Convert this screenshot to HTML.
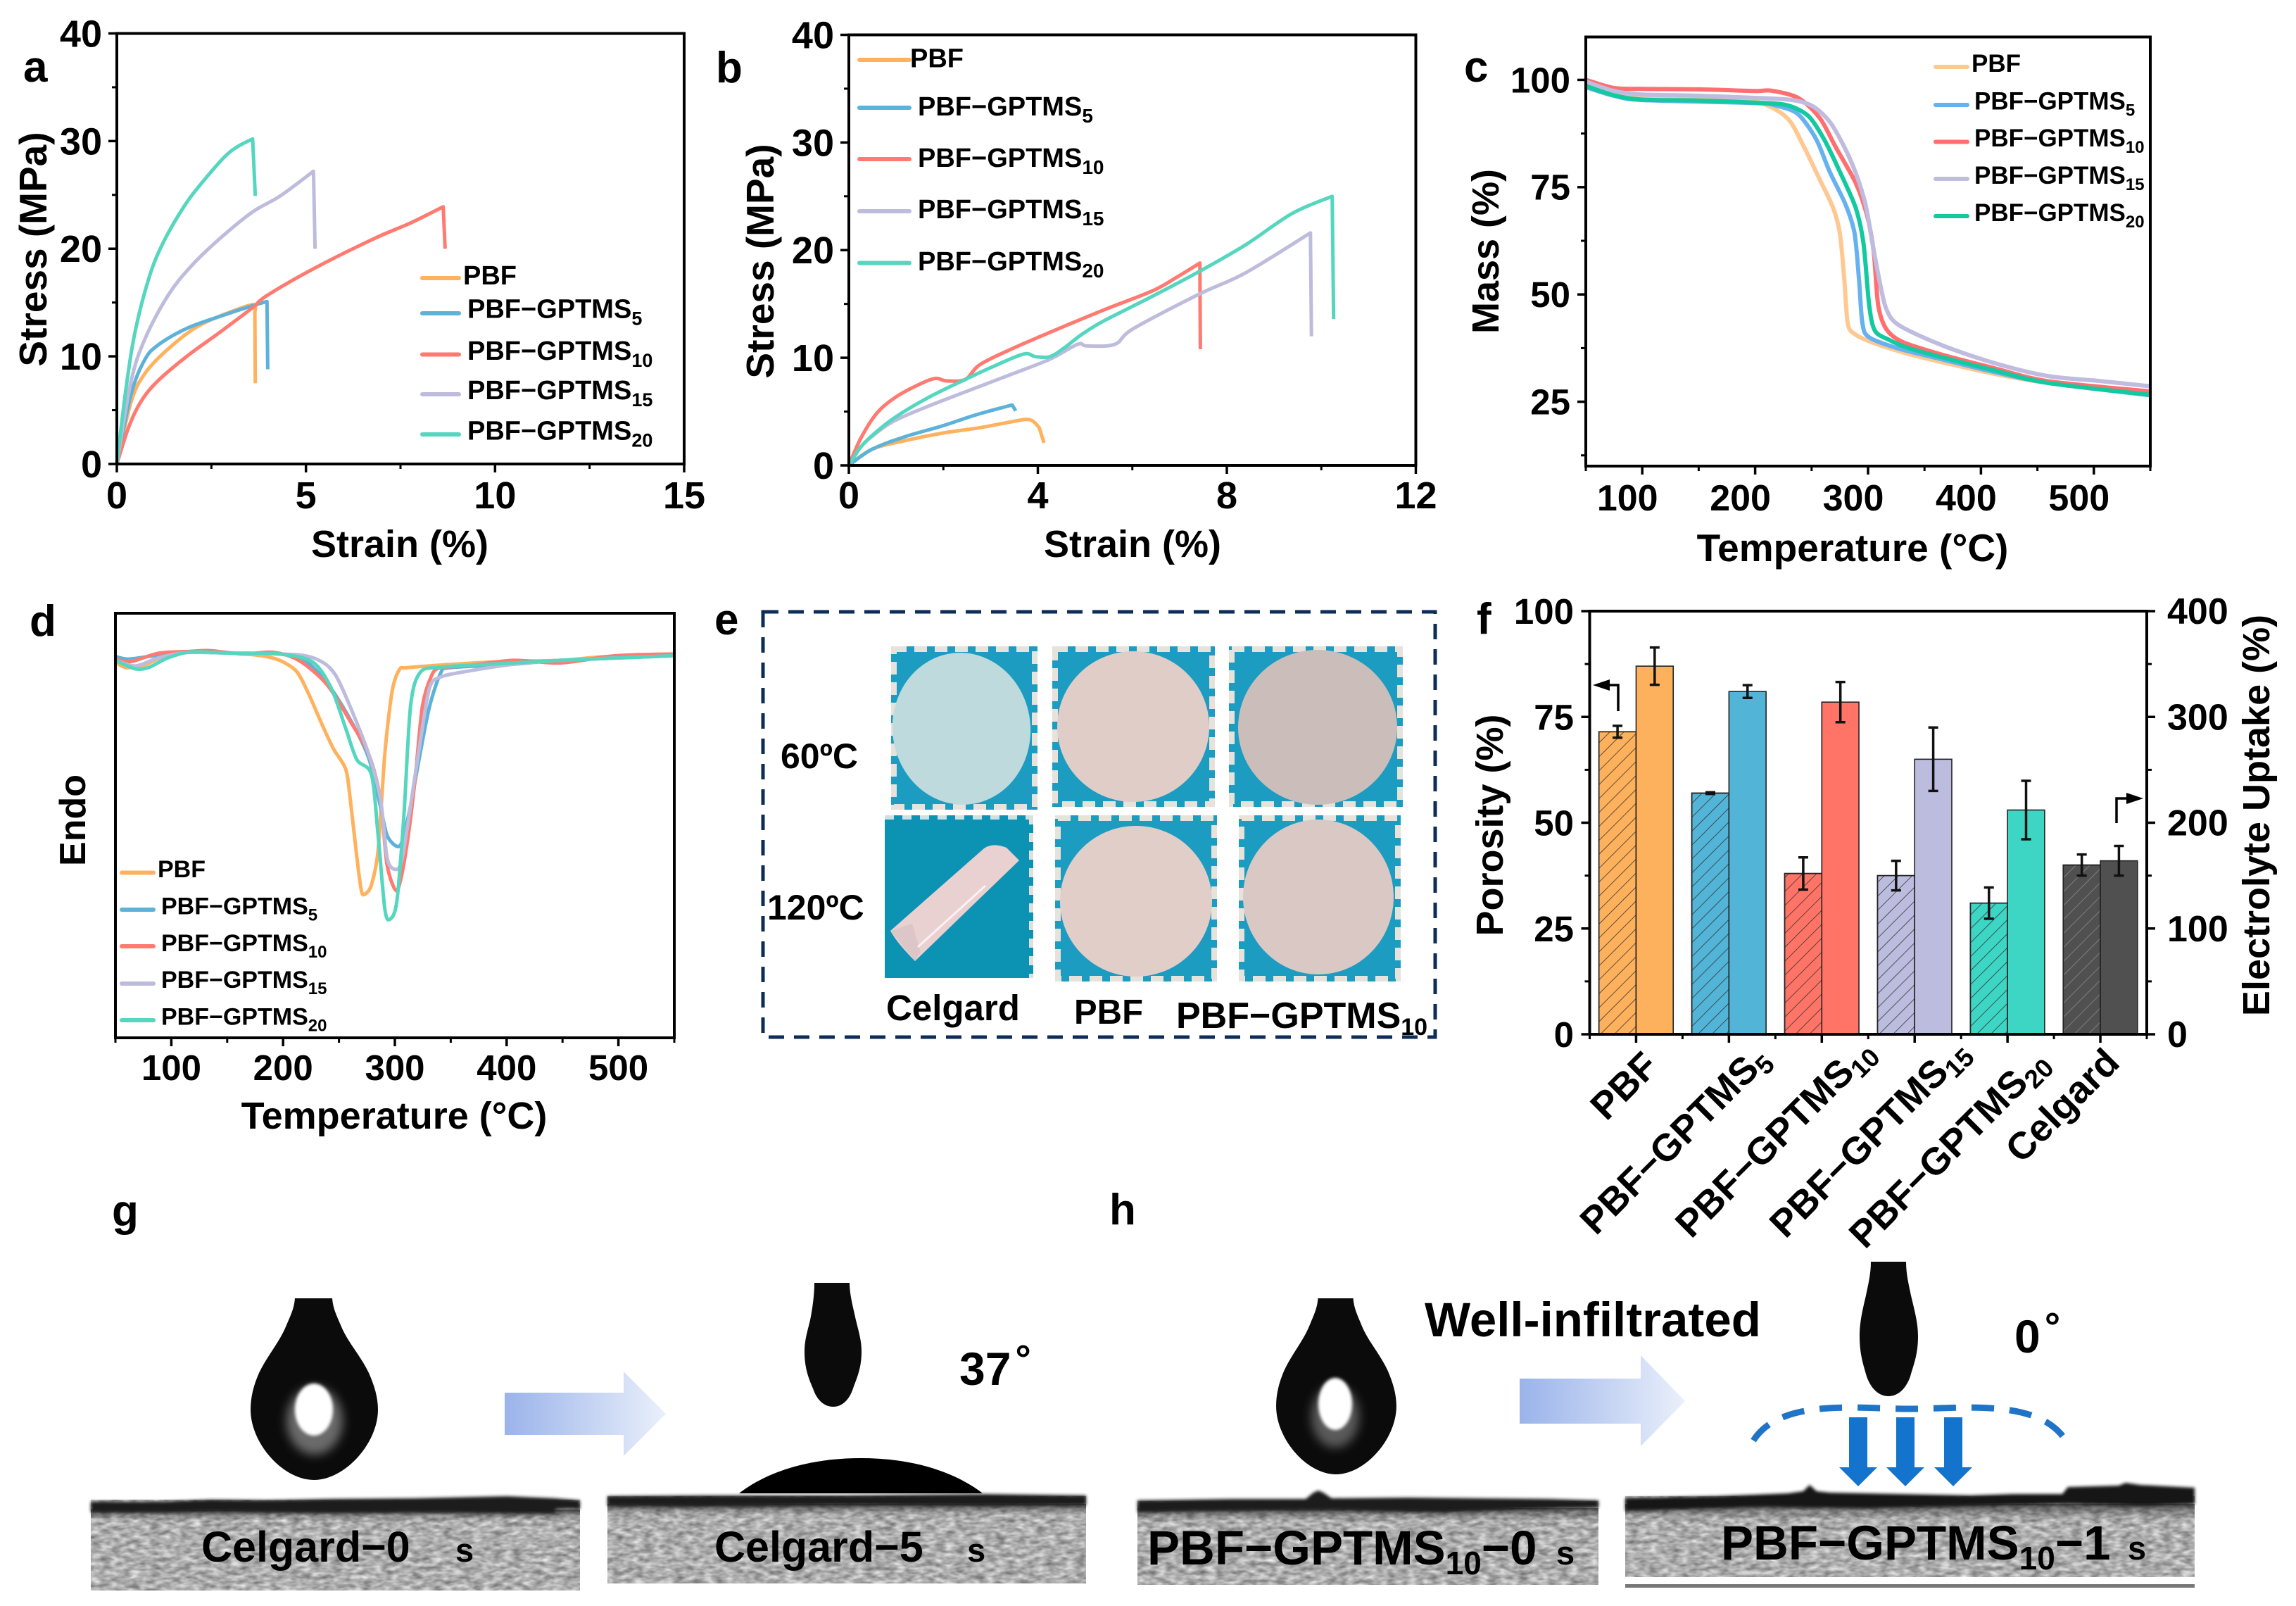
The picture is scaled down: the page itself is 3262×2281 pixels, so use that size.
<!DOCTYPE html>
<html lang="en">
<head>
<meta charset="utf-8">
<title>PBF-GPTMS separator characterization</title>
<style>
html,body{margin:0;padding:0;background:#fff;}
svg{display:block;}
text{font-family:"Liberation Sans",sans-serif;font-weight:bold;fill:#000;}
</style>
</head>
<body>
<svg id="figure" xmlns="http://www.w3.org/2000/svg" width="3262" height="2281" viewBox="0 0 3262 2281">
<defs>
  <pattern id="hatch-dark" patternUnits="userSpaceOnUse" width="14" height="14" patternTransform="rotate(45)">
    <line x1="0" y1="0" x2="0" y2="14" stroke="#333" stroke-width="1.6"/>
  </pattern>
  <pattern id="hatch-grey" patternUnits="userSpaceOnUse" width="14" height="14" patternTransform="rotate(45)">
    <line x1="0" y1="0" x2="0" y2="14" stroke="#8a8a8a" stroke-width="1.6"/>
  </pattern>
  <filter id="noise" x="0" y="0" width="1" height="1" color-interpolation-filters="sRGB">
    <feTurbulence type="fractalNoise" baseFrequency="0.07 0.16" numOctaves="2" seed="4"/>
    <feColorMatrix type="matrix" values="0.62 0 0 0 0.37  0.62 0 0 0 0.37  0.62 0 0 0 0.37  0 0 0 0 1"/>
  </filter>
  <filter id="soft" x="-50%" y="-50%" width="200%" height="200%"><feGaussianBlur stdDeviation="7"/></filter>
  <filter id="soft-edge" x="-10%" y="-30%" width="120%" height="160%"><feGaussianBlur stdDeviation="2.2"/></filter>
  <linearGradient id="arrow-fill" x1="0" y1="0" x2="1" y2="0">
    <stop offset="0" stop-color="#9AB3EA"/><stop offset="1" stop-color="#EAF0FB"/>
  </linearGradient>
  <linearGradient id="edge-shadow" x1="0" y1="0" x2="0" y2="1">
    <stop offset="0" stop-color="#222" stop-opacity=".65"/><stop offset="1" stop-color="#222" stop-opacity="0"/>
  </linearGradient>
  <path id="drop-shape" d="M419 1844 H472 C473 1858 478 1868 484 1882 C493 1905 512 1925 524 1950 C532 1968 537 1985 537 2002 C537 2050 490 2102 446 2102 C402 2102 356 2050 356 2002 C356 1985 360 1968 368 1950 C380 1925 398 1905 407 1882 C413 1868 418 1858 419 1844 Z"/>
</defs>
<rect x="0" y="0" width="3262" height="2281" fill="#fff"/>

<!-- Panel letters -->
<g font-size="62">
  <text x="33" y="116">a</text>
  <text x="1017" y="117">b</text>
  <text x="2080" y="116">c</text>
  <text x="42" y="903">d</text>
  <text x="1015" y="901">e</text>
  <text x="2098" y="900">f</text>
  <text x="159" y="1741">g</text>
  <text x="1576" y="1739">h</text>
</g>

<!-- Chart groups -->
<g id="chart-a"></g>
<g id="chart-b"></g>
<g id="chart-c"></g>
<g id="chart-d"></g>
<g id="chart-f"></g>

<!-- Axis titles -->
<g font-size="54">
  <text x="568" y="791" font-size="54" text-anchor="middle">Strain (%)</text>
  <text transform="translate(66 354) rotate(-90)" font-size="55" text-anchor="middle">Stress (MPa)</text>
  <text x="1609" y="791" font-size="54" text-anchor="middle">Strain (%)</text>
  <text transform="translate(1099 371) rotate(-90)" font-size="55" text-anchor="middle">Stress (MPa)</text>
  <text x="2632" y="797" font-size="55" text-anchor="middle">Temperature (°C)</text>
  <text transform="translate(2129 357) rotate(-90)" font-size="54" text-anchor="middle">Mass (%)</text>
  <text x="560" y="1603" font-size="54" text-anchor="middle">Temperature (°C)</text>
  <text transform="translate(121 1165) rotate(-90)" font-size="52" text-anchor="middle">Endo</text>
  <text transform="translate(2135 1172) rotate(-90)" font-size="54" text-anchor="middle">Porosity (%)</text>
  <text transform="translate(3224 1158) rotate(-90)" font-size="54" text-anchor="middle">Electrolyte Uptake (%)</text>
</g>

<!-- Panel e: photo grid -->
<g>
  <rect x="1084" y="869" width="955" height="604" fill="none" stroke="#0E2C5A" stroke-width="5" stroke-dasharray="22 14"/>

  <g>
    <rect x="1266" y="918" width="208" height="232" fill="#1B9CC0"/>
    <rect x="1270" y="922" width="200" height="224" fill="none" stroke="#E6E2DC" stroke-width="8" stroke-dasharray="18 11"/>
    <ellipse cx="1366" cy="1035" rx="98" ry="108" fill="#BFDADD" transform="rotate(-6 1366 1035)"/>
  </g>
  <g>
    <rect x="1495" y="918" width="231" height="228" fill="#1B9CC0"/>
    <rect x="1499" y="922" width="223" height="220" fill="none" stroke="#E6E2DC" stroke-width="8" stroke-dasharray="18 11"/>
    <ellipse cx="1610" cy="1032" rx="108" ry="107" fill="#E0CDC8"/>
  </g>
  <g>
    <rect x="1746" y="918" width="247" height="228" fill="#1B9CC0"/>
    <rect x="1750" y="922" width="239" height="220" fill="none" stroke="#E6E2DC" stroke-width="8" stroke-dasharray="18 11"/>
    <ellipse cx="1872" cy="1033" rx="113" ry="110" fill="#CBBEBA"/>
  </g>
  <g>
    <rect x="1257" y="1158" width="211" height="231" fill="#0C92B3"/>
    <line x1="1257" y1="1161" x2="1468" y2="1161" stroke="#CFE0E2" stroke-width="6" stroke-dasharray="13 12"/>
    <line x1="1465" y1="1158" x2="1465" y2="1389" stroke="#DFE0DC" stroke-width="6" stroke-dasharray="13 12"/>
    <path d="M1265 1322 L1398 1205 C1408 1198 1420 1200 1430 1204 L1448 1222 L1300 1365 C1285 1350 1272 1335 1265 1322 Z" fill="#E9D1D1"/>
    <polygon points="1265,1322 1296,1312 1308,1352 1300,1365" fill="#DCC6C8"/>
    <line x1="1304" y1="1345" x2="1400" y2="1258" stroke="#FBF1F1" stroke-width="3"/>
  </g>
  <g>
    <rect x="1499" y="1158" width="230" height="236" fill="#1B9CC0"/>
    <rect x="1503" y="1162" width="222" height="228" fill="none" stroke="#E6E2DC" stroke-width="8" stroke-dasharray="18 11"/>
    <ellipse cx="1614" cy="1280" rx="108" ry="107" fill="#E2CEC9"/>
  </g>
  <g>
    <rect x="1760" y="1158" width="230" height="236" fill="#1B9CC0"/>
    <rect x="1764" y="1162" width="222" height="228" fill="none" stroke="#E6E2DC" stroke-width="8" stroke-dasharray="18 11"/>
    <ellipse cx="1873" cy="1274" rx="107" ry="110" fill="#DAC8C5"/>
  </g>
  <text x="1109" y="1091" font-size="50">60ºC</text>
  <text x="1090" y="1306" font-size="50">120ºC</text>
  <text x="1259" y="1449" font-size="51">Celgard</text>
  <text x="1526" y="1454" font-size="49">PBF</text>
  <text x="1671" y="1460" font-size="52">PBF−GPTMS<tspan font-size="34" dy="10">10</tspan></text>
</g>

<!-- Panel g -->
<g>
  <use href="#drop-shape" fill="#0b0b0b"/>
  <ellipse cx="447" cy="2018" rx="40" ry="48" fill="#6a6a6a" filter="url(#soft)"/>
  <ellipse cx="446" cy="2002" rx="27" ry="37" fill="#fff" filter="url(#soft-edge)"/>

  <rect x="129" y="2130" width="695" height="129" fill="#aaa" filter="url(#noise)"/>
  <rect x="129" y="2144" width="695" height="16" fill="url(#edge-shadow)"/>
  <path d="M129 2133 L230 2133 L300 2130 L380 2131 L470 2129 L590 2128 L720 2125 L788 2128 L824 2131 L824 2143 L790 2143 L788 2150 L600 2148 L470 2149 L300 2147 L240 2148 L129 2148 Z" fill="#1a1a1a" filter="url(#soft-edge)"/>
  <text x="286" y="2218" font-size="61">Celgard−0<tspan font-size="47" x="647">s</tspan></text>

  <polygon points="717,1978 886,1978 886,1948 946,2008 886,2068 886,2038 717,2038" fill="url(#arrow-fill)"/>

  <path d="M1157 1822 H1207 C1207 1840 1213 1860 1216 1875 C1221 1895 1224 1905 1224 1920 C1224 1945 1216 1960 1212 1972 C1206 1990 1195 1998 1184 1998 C1172 1998 1161 1990 1155 1972 C1150 1960 1143 1945 1143 1920 C1143 1905 1146 1895 1151 1875 C1154 1860 1157 1840 1157 1822 Z" fill="#0b0b0b"/>
  <path d="M1050 2121 C1090 2090 1150 2071 1223 2071 C1296 2071 1356 2090 1396 2121 Z" fill="#000"/>
  <rect x="863" y="2125" width="680" height="124" fill="#aaa" filter="url(#noise)"/>
  <rect x="863" y="2136" width="680" height="16" fill="url(#edge-shadow)"/>
  <path d="M863 2125 L1000 2124 L1200 2124 L1400 2122 L1543 2124 L1543 2138 L1400 2139 L1200 2138 L1000 2140 L863 2139 Z" fill="#1a1a1a" filter="url(#soft-edge)"/>
  <text x="1015" y="2218" font-size="61">Celgard−5<tspan font-size="47" x="1374">s</tspan></text>
  <text x="1363" y="1967" font-size="66">37<tspan font-size="56" dx="6" dy="-18">°</tspan></text>
</g>

<!-- Panel h -->
<g>
  <use href="#drop-shape" fill="#0b0b0b" transform="translate(1898 1844) scale(.944 .969) translate(-446 -1844)"/>
  <ellipse cx="1897" cy="2012" rx="34" ry="44" fill="#5a5a5a" filter="url(#soft)"/>
  <ellipse cx="1897" cy="1994" rx="24" ry="37" fill="#fff" filter="url(#soft-edge)"/>

  <rect x="1616" y="2132" width="655" height="119" fill="#aaa" filter="url(#noise)"/>
  <rect x="1616" y="2142" width="655" height="18" fill="url(#edge-shadow)"/>
  <path d="M1616 2131 L1750 2129 L1855 2129 L1866 2120 L1873 2117 L1880 2120 L1892 2128 L2000 2127 L2100 2128 L2200 2129 L2271 2131 L2271 2141 L2160 2144 L2050 2148 L1900 2145 L1700 2146 L1616 2148 Z" fill="#1a1a1a" filter="url(#soft-edge)"/>
  <text x="1630" y="2222" font-size="69">PBF−GPTMS<tspan font-size="46" dy="14">10</tspan><tspan dy="-14">−0</tspan><tspan font-size="47" x="2211">s</tspan></text>

  <text x="2024" y="1898" font-size="69">Well-infiltrated</text>
  <polygon points="2159,1958 2331,1958 2331,1925 2394,1990 2331,2054 2331,2022 2159,2022" fill="url(#arrow-fill)"/>

  <path d="M2658 1792 H2708 C2708 1810 2712 1825 2715 1840 C2721 1865 2725 1880 2725 1898 C2725 1925 2718 1940 2714 1955 C2708 1972 2697 1983 2683 1983 C2669 1983 2658 1972 2652 1955 C2648 1940 2642 1925 2642 1898 C2642 1880 2645 1865 2651 1840 C2654 1825 2658 1810 2658 1792 Z" fill="#0b0b0b"/>
  <text x="2862" y="1921" font-size="66">0<tspan font-size="56" dx="6" dy="-18">°</tspan></text>

  <path d="M2491 2046 C2530 1985 2640 2001 2713 2001 C2786 2001 2896 1985 2935 2046" fill="none" stroke="#1F74C8" stroke-width="9" stroke-dasharray="32 22"/>
  <polygon points="2627,2013 2653,2013 2653,2084 2667,2084 2640,2111 2613,2084 2627,2084" fill="#1473CC"/>
  <polygon points="2694,2013 2720,2013 2720,2084 2734,2084 2707,2111 2680,2084 2694,2084" fill="#1473CC"/>
  <polygon points="2762,2013 2788,2013 2788,2084 2802,2084 2775,2111 2748,2084 2762,2084" fill="#1473CC"/>

  <rect x="2309" y="2125" width="809" height="130" fill="#aaa" filter="url(#noise)"/>
  <rect x="2309" y="2136" width="809" height="22" fill="url(#edge-shadow)"/>
  <path d="M2309 2128 L2440 2125 L2540 2121 L2562 2118 L2571 2109 L2581 2118 L2600 2120 L2700 2122 L2800 2124 L2860 2122 L2930 2122 L2938 2112 L3010 2110 L3020 2106 L3040 2109 L3118 2113 L3118 2136 L3050 2139 L2938 2136 L2800 2139 L2650 2142 L2500 2140 L2309 2146 Z" fill="#161616" filter="url(#soft-edge)"/>
  <rect x="2309" y="2240" width="809" height="10" fill="#fff"/>
  <rect x="2309" y="2250" width="809" height="5" fill="#777"/>
  <text x="2445" y="2215" font-size="69">PBF−GPTMS<tspan font-size="46" dy="14">10</tspan><tspan dy="-14">−1</tspan><tspan font-size="47" x="3023">s</tspan></text>
</g>

<script>
/* ---------- Panel a: stress (MPa) vs strain (%) ---------- */
const aPbfStrain = [0, 0.37, 0.74, 1.36, 2.1, 2.84, 3.59, 3.65, 3.66];
const aPbfStress = [0, 5.7, 8.4, 10.7, 12.7, 13.9, 14.8, 14.1, 7.5];
const aG5Strain = [0, 0.37, 0.74, 1.11, 1.85, 2.71, 3.58, 3.97, 3.99];
const aG5Stress = [0, 6.4, 9.7, 11.1, 12.6, 13.7, 14.7, 15.1, 8.8];
const aG10Strain = [0, 0.31, 0.62, 1.05, 1.85, 2.71, 3.58, 3.95, 5.18, 6.78, 7.77, 8.63, 8.68];
const aG10Stress = [0, 3.4, 5.7, 7.6, 10, 12.2, 14.5, 15.6, 18.1, 20.9, 22.4, 23.9, 20];
const aG15Strain = [0, 0.37, 0.74, 1.36, 1.97, 2.71, 3.58, 4.32, 5.2, 5.24];
const aG15Stress = [0, 7.6, 11.6, 15.7, 18.4, 20.9, 23.4, 24.9, 27.2, 20];
const aG20Strain = [0, 0.25, 0.49, 0.86, 1.23, 1.79, 2.22, 2.84, 3.2, 3.59, 3.66];
const aG20Stress = [0, 7.2, 12.4, 17.4, 20.6, 24, 26, 28.5, 29.5, 30.2, 24.9];
const aXTicks = [0, 5, 10, 15];
const aXMinor = [2.5, 7.5, 12.5];
const aYTicks = [0, 10, 20, 30, 40];
const aYMinor = [5, 15, 25, 35];

/* ---------- Panel b: stress (MPa) vs strain (%) ---------- */
const bPbfStrain = [0, 0.49, 1.19, 1.98, 2.77, 3.46, 3.75, 3.9, 4.03, 4.13];
const bPbfStress = [0, 1.5, 2.3, 3, 3.5, 4.07, 4.27, 4.1, 3.5, 2.1];
const bG5Strain = [0, 0.49, 1.19, 1.98, 2.67, 3.36, 3.46, 3.53];
const bG5Stress = [0, 1.5, 2.67, 3.67, 4.67, 5.5, 5.6, 5.07];
const bG10Strain = [0, 0.25, 0.59, 0.99, 1.48, 1.83, 2.07, 2.47, 2.77, 3.46, 4.44, 5.43, 6.42, 6.91, 7.43, 7.44];
const bG10Stress = [0, 2.5, 4.84, 6.34, 7.5, 8.08, 7.85, 8, 9.35, 10.85, 12.7, 14.5, 16.2, 17.4, 18.8, 10.8];
const bG15Strain = [0, 0.25, 0.55, 0.99, 1.68, 2.47, 3.46, 4.25, 4.84, 5.04, 5.63, 6.02, 7.41, 8.4, 9.77, 9.79];
const bG15Stress = [0, 1.7, 2.9, 4.2, 5.5, 6.84, 8.5, 9.85, 11.25, 11.1, 11.25, 12.7, 15.9, 17.9, 21.6, 12];
const bG20Strain = [0, 0.25, 0.55, 0.99, 1.68, 2.47, 3.06, 3.7, 3.95, 4.25, 4.54, 4.94, 5.43, 6.42, 7.41, 8.4, 9.38, 10.23, 10.26];
const bG20Stress = [0, 1.7, 3, 4.5, 6.3, 8, 9.2, 10.35, 10.1, 10.1, 10.85, 12.2, 13.5, 15.7, 18, 20.5, 23.4, 25, 13.6];
const bXTicks = [0, 4, 8, 12];
const bXMinor = [2, 6, 10];
const bYTicks = [0, 10, 20, 30, 40];
const bYMinor = [5, 15, 25, 35];

/* ---------- Panel c: mass (%) vs temperature (C) ---------- */
const cPbfTemp = [50, 75, 100, 150, 200, 228, 243, 257, 269, 275, 279, 282, 288, 304, 342, 412, 459, 550];
const cPbfMass = [98.5, 96.4, 95.8, 95.6, 95, 91.2, 84.5, 76.9, 70.2, 64.3, 53.4, 43.3, 40.8, 38.8, 35.7, 31.5, 29.4, 26.5];
const cG5Temp = [50, 75, 100, 200, 220, 238, 254, 266, 280, 288, 292, 295, 301, 327, 365, 412, 459, 550];
const cG5Mass = [98.3, 96.3, 95.3, 94.6, 93.9, 92, 86.2, 78.6, 71, 64.3, 53.4, 43.3, 40, 37.4, 34.9, 31.9, 29.4, 26.5];
const cG10Temp = [50, 75, 100, 150, 200, 214, 238, 257, 271, 289, 299, 305, 309, 316, 330, 365, 412, 459, 550];
const cG10Mass = [100, 98.1, 97.9, 97.8, 97.4, 97.5, 95.8, 91.2, 84.5, 76, 68.5, 60, 47.5, 42, 39, 36, 32.8, 29.8, 27.4];
const cG15Temp = [50, 75, 100, 150, 200, 233, 252, 268, 285, 297, 304, 310, 316, 327, 365, 412, 459, 506, 550];
const cG15Mass = [99.6, 97.4, 96.6, 96.3, 95.8, 95.3, 93.7, 89.5, 81, 71.8, 61.8, 53.4, 46.7, 42.9, 38.2, 34, 31, 29.8, 28.6];
const cG20Temp = [50, 75, 100, 150, 200, 228, 247, 261, 275, 289, 296, 301, 306, 318, 342, 412, 459, 550];
const cG20Mass = [98.6, 96.4, 95.4, 95.2, 94.7, 94.1, 91.6, 86.2, 78.6, 70.2, 61.8, 47.5, 41.6, 39.5, 37, 32.3, 29.4, 26.6];
const cXTicks = [100, 200, 300, 400, 500];
const cXMinor = [50, 150, 250, 350, 450, 550];
const cYTicks = [25, 50, 75, 100];
const cYMinor = [12.5, 37.5, 62.5, 87.5];

/* ---------- Panel d: heat flow (arbitrary 0-100) vs temperature (C) ---------- */
const dPbfTemp = [50, 59.5, 76, 93, 118, 155.5, 180.6, 197, 212, 222, 235, 245, 256, 260, 266, 270, 273, 279, 285, 291, 297.5, 304, 312, 364, 406, 448, 489.6, 550];
const dPbfFlow = [88.5, 87.2, 87.8, 89.8, 91, 90.6, 90, 88.9, 86.3, 81.5, 73.7, 68.1, 63.3, 56.4, 42.5, 34.7, 33.8, 36, 44.2, 66.8, 81.5, 86.7, 87.2, 88.2, 88.7, 88.9, 89.8, 90.2];
const dG5Temp = [50, 61.6, 84.6, 114, 155.5, 197, 218, 239, 260, 276.6, 287, 293, 301.7, 306.7, 314, 322.5, 331, 341, 349.7, 406, 448, 550];
const dG5Flow = [89.8, 89.2, 90, 90.8, 90.6, 90.4, 89.2, 83.7, 75, 65.9, 54.6, 47.7, 45.1, 46.4, 54.6, 66.8, 78, 85.9, 87.2, 88, 88.9, 90];
const dG10Temp = [50, 63.7, 88.7, 116, 134.7, 164, 191, 214, 239, 260, 276.6, 287, 293, 301, 306, 312, 318, 324.6, 333, 341, 364, 406, 448, 498, 550];
const dG10Flow = [89.2, 88.6, 90.6, 91, 91.2, 90.4, 90.8, 88.9, 83.3, 74.6, 66.8, 56.4, 40.8, 34.7, 38.2, 47.7, 60.7, 78, 85.4, 87.2, 87.6, 88.9, 88.3, 90, 90.4];
const dG15Temp = [50, 68, 88.7, 116, 155.5, 214, 235, 247, 260, 276.6, 287, 293, 299.6, 306, 314, 322.5, 331, 341, 364, 406, 448, 550];
const dG15Flow = [88.9, 87.6, 89.5, 90.8, 90.6, 90.2, 88.5, 85.4, 78, 66.8, 56.4, 42.5, 39.7, 41.6, 54.6, 69.4, 82.4, 85, 86.3, 88, 88.9, 90];
const dG20Temp = [50, 68, 80.4, 97, 118, 155.5, 197, 226.5, 243, 256, 266, 279, 285, 291, 295.4, 301.7, 308, 314, 322.5, 341, 406, 448, 550];
const dG20Flow = [88.9, 86.9, 87.3, 89.5, 90.9, 90.6, 90.4, 88.5, 82.4, 72.9, 65.5, 62, 47.7, 30.4, 27.9, 32, 52, 78, 86, 87.3, 88.3, 88.9, 90];
const dXTicks = [100, 200, 300, 400, 500];
const dXMinor = [50, 150, 250, 350, 450, 550];

/* ---------- Panel f: bars ---------- */
const fCategories = ['PBF', 'PBF−GPTMS', 'PBF−GPTMS', 'PBF−GPTMS', 'PBF−GPTMS', 'Celgard'];
const fCategorySubs = ['', '5', '10', '15', '20', ''];
const fPorosity = [71.5, 57, 38, 37.5, 31, 40];
const fPorosityErr = [1.4, 0.2, 3.8, 3.5, 3.7, 2.5];
const fUptake = [348, 324, 314, 260, 212, 164];
const fUptakeErr = [17.6, 6, 19, 30, 27.6, 14];
const fLeftTicks = [0, 25, 50, 75, 100];
const fLeftMinor = [12.5, 37.5, 62.5, 87.5];
const fRightTicks = [0, 100, 200, 300, 400];
const fRightMinor = [50, 150, 250, 350];

/* ---------- Shared legend text ---------- */
const seriesNames = ['PBF', 'PBF−GPTMS', 'PBF−GPTMS', 'PBF−GPTMS', 'PBF−GPTMS'];
const seriesSubs = ['', '5', '10', '15', '20'];

const SVGNS = 'http://www.w3.org/2000/svg';
function make(tag, parent, attrs) {
  const node = document.createElementNS(SVGNS, tag);
  for (const k in attrs) node.setAttribute(k, attrs[k]);
  parent.appendChild(node);
  return node;
}
function smoothPath(pts, sharpEnd, k) {
  const n = sharpEnd ? pts.length - 1 : pts.length;
  let d = 'M' + pts[0][0].toFixed(1) + ' ' + pts[0][1].toFixed(1);
  for (let i = 0; i < n - 1; i++) {
    const p0 = pts[Math.max(i - 1, 0)], p1 = pts[i], p2 = pts[i + 1], p3 = pts[Math.min(i + 2, n - 1)];
    const c1x = p1[0] + (p2[0] - p0[0]) / k, c1y = p1[1] + (p2[1] - p0[1]) / k;
    const c2x = p2[0] - (p3[0] - p1[0]) / k, c2y = p2[1] - (p3[1] - p1[1]) / k;
    d += 'C' + c1x.toFixed(1) + ' ' + c1y.toFixed(1) + ' ' + c2x.toFixed(1) + ' ' + c2y.toFixed(1) + ' ' + p2[0].toFixed(1) + ' ' + p2[1].toFixed(1);
  }
  if (sharpEnd) d += 'L' + pts[n][0].toFixed(1) + ' ' + pts[n][1].toFixed(1);
  return d;
}
function drawLegend(g, prefix, colors, lay) {
  seriesNames.forEach(function (name, i) {
    const row = make('g', g, {});
    
    
    const sw = make('line', row, {x1: lay.x1, x2: lay.x2, y1: lay.lineY[i], y2: lay.lineY[i], stroke: colors[i], 'stroke-width': 6, 'stroke-linecap': 'round'});
    
    
    const t = make('text', row, {x: i === 0 ? lay.textX0 : lay.textX, y: lay.base[i], 'font-size': lay.fs});
    
    
    t.textContent = name;
    if (seriesSubs[i]) {
      const s = make('tspan', t, {'font-size': lay.subFs, dy: lay.subDy});
      s.textContent = seriesSubs[i];
    }
  });
}
function drawLineChart(cfg) {
  const g = document.getElementById(cfg.id);
  const xs = function (v) { return cfg.L + (v - cfg.xDom[0]) / (cfg.xDom[1] - cfg.xDom[0]) * (cfg.R - cfg.L); };
  const ys = function (v) { return cfg.B - (v - cfg.yDom[0]) / (cfg.yDom[1] - cfg.yDom[0]) * (cfg.B - cfg.T); };

  cfg.series.forEach(function (s, i) {
    const pts = s.x.map(function (v, j) { return [xs(v), ys(s.y[j])]; });
    const path = make('path', g, {d: smoothPath(pts, cfg.sharpEnd, cfg.k), fill: 'none', stroke: cfg.colors[i], 'stroke-width': cfg.lineW, 'stroke-linejoin': 'round', 'stroke-linecap': 'butt'});
    
    
  });

  const frame = make('rect', g, {x: cfg.L, y: cfg.T, width: cfg.R - cfg.L, height: cfg.B - cfg.T, fill: 'none', stroke: '#000', 'stroke-width': 4});
  
  

  cfg.xTicks.forEach(function (v) {
    const tick = make('line', g, {x1: xs(v), x2: xs(v), y1: cfg.B, y2: cfg.B + 12, stroke: '#000', 'stroke-width': 3.5});
    
    
    const label = make('text', g, {x: xs(v) + (cfg.xLabelShift || 0), y: cfg.xLabelY, 'font-size': cfg.xFs, 'text-anchor': 'middle'});
    
    
    label.textContent = String(v);
  });
  cfg.xMinor.forEach(function (v) {
    const tick = make('line', g, {x1: xs(v), x2: xs(v), y1: cfg.B, y2: cfg.B + 7, stroke: '#000', 'stroke-width': 3});
    
    
  });
  cfg.yTicks.forEach(function (v) {
    const tick = make('line', g, {x1: cfg.L, x2: cfg.L - 12, y1: ys(v), y2: ys(v), stroke: '#000', 'stroke-width': 3.5});
    
    
    const label = make('text', g, {x: cfg.yLabelX, y: ys(v) + cfg.yFs * 0.35, 'font-size': cfg.yFs, 'text-anchor': 'end'});
    
    
    label.textContent = String(v);
  });
  cfg.yMinor.forEach(function (v) {
    const tick = make('line', g, {x1: cfg.L, x2: cfg.L - 7, y1: ys(v), y2: ys(v), stroke: '#000', 'stroke-width': 3});
    
    
  });
  drawLegend(g, cfg.prefix, cfg.colors, cfg.legend);
}

const paleColors = ['#FFB25E', '#5CB2D8', '#FF7A70', '#BDBCDD', '#55D6BF'];
const tgaColors = ['#FFC890', '#66B2F0', '#FF6F6F', '#BFBCE0', '#12C9A0'];

drawLineChart({
  id: 'chart-a', prefix: 'a', L: 166, R: 972, T: 47.5, B: 659, xDom: [0, 15], yDom: [0, 40], lineW: 5, sharpEnd: true, k: 6,
  colors: paleColors, xTicks: aXTicks, xMinor: aXMinor, yTicks: aYTicks, yMinor: aYMinor,
  xLabelY: 722, xFs: 54, yLabelX: 145, yFs: 54,
  series: [
    {name: 'pbf', x: aPbfStrain, y: aPbfStress},
    {name: 'gptms5', x: aG5Strain, y: aG5Stress},
    {name: 'gptms10', x: aG10Strain, y: aG10Stress},
    {name: 'gptms15', x: aG15Strain, y: aG15Stress},
    {name: 'gptms20', x: aG20Strain, y: aG20Stress}
  ],
  legend: {x1: 600, x2: 652, lineY: [395, 445, 503.5, 560, 617], textX0: 658, textX: 664, base: [404, 451.5, 511, 567, 624.5], fs: 38, subFs: 27, subDy: 10}
});
drawLineChart({
  id: 'chart-b', prefix: 'b', L: 1206, R: 2011.5, T: 49.5, B: 661, xDom: [0, 12], yDom: [0, 40], lineW: 5, sharpEnd: true, k: 6,
  colors: paleColors, xTicks: bXTicks, xMinor: bXMinor, yTicks: bYTicks, yMinor: bYMinor,
  xLabelY: 722, xFs: 54, yLabelX: 1185, yFs: 54,
  series: [
    {name: 'pbf', x: bPbfStrain, y: bPbfStress},
    {name: 'gptms5', x: bG5Strain, y: bG5Stress},
    {name: 'gptms10', x: bG10Strain, y: bG10Stress},
    {name: 'gptms15', x: bG15Strain, y: bG15Stress},
    {name: 'gptms20', x: bG20Strain, y: bG20Stress}
  ],
  legend: {x1: 1221, x2: 1292, lineY: [85, 153, 226, 300, 373.5], textX0: 1293, textX: 1304, base: [95.5, 164, 237, 310, 384], fs: 38, subFs: 28, subDy: 10}
});
drawLineChart({
  id: 'chart-c', prefix: 'c', L: 2253, R: 3055, T: 52.5, B: 662, xDom: [50, 550], yDom: [10, 110], lineW: 6, sharpEnd: false, k: 7,
  colors: tgaColors, xTicks: cXTicks, xMinor: cXMinor, yTicks: cYTicks, yMinor: cYMinor,
  xLabelY: 725, xLabelShift: -21, xFs: 52, yLabelX: 2231, yFs: 51,
  series: [
    {name: 'pbf', x: cPbfTemp, y: cPbfMass},
    {name: 'gptms5', x: cG5Temp, y: cG5Mass},
    {name: 'gptms10', x: cG10Temp, y: cG10Mass},
    {name: 'gptms15', x: cG15Temp, y: cG15Mass},
    {name: 'gptms20', x: cG20Temp, y: cG20Mass}
  ],
  legend: {x1: 2750, x2: 2795, lineY: [95, 149, 201.5, 254, 307], textX0: 2801, textX: 2805, base: [102, 155.5, 208, 261, 314], fs: 35, subFs: 24, subDy: 9}
});
drawLineChart({
  id: 'chart-d', prefix: 'd', L: 164, R: 958, T: 871, B: 1474, xDom: [50, 550], yDom: [0, 100], lineW: 5, sharpEnd: false, k: 7,
  colors: paleColors, xTicks: dXTicks, xMinor: dXMinor, yTicks: [], yMinor: [],
  xLabelY: 1534, xFs: 51, yLabelX: 150, yFs: 50,
  series: [
    {name: 'pbf', x: dPbfTemp, y: dPbfFlow},
    {name: 'gptms5', x: dG5Temp, y: dG5Flow},
    {name: 'gptms10', x: dG10Temp, y: dG10Flow},
    {name: 'gptms15', x: dG15Temp, y: dG15Flow},
    {name: 'gptms20', x: dG20Temp, y: dG20Flow}
  ],
  legend: {x1: 173, x2: 218, lineY: [1239.5, 1292, 1344, 1397, 1449], textX0: 224, textX: 229, base: [1246, 1298.5, 1351, 1403, 1455.5], fs: 34, subFs: 24, subDy: 9}
});

/* ---------- Panel f drawing ---------- */
(function () {
  const g = document.getElementById('chart-f');
  const L = 2258.5, R = 3050, T = 868, B = 1469;
  const barColors = ['#FEB15C', '#52B4D6', '#FF7466', '#BCBCDE', '#3DD5C3', '#505050'];
  const labelShiftX = [34, 60, 78, 80, 61, 30];
  const labelY = [1517, 1507, 1497, 1497, 1512, 1512];
  const step = (R - L) / fCategories.length;
  const xc = function (i) { return L + (i + 0.5) * step; };
  const yP = function (v) { return B - v / 100 * (B - T); };
  const yU = function (v) { return B - v / 400 * (B - T); };
  const barW = step * 0.4;

  fCategories.forEach(function (cat, i) {
    const cx = xc(i);
    const hatched = make('rect', g, {x: cx - barW, y: yP(fPorosity[i]), width: barW, height: B - yP(fPorosity[i]), fill: barColors[i], stroke: '#222', 'stroke-width': 1.6});
    
    
    const overlay = make('rect', g, {x: cx - barW, y: yP(fPorosity[i]), width: barW, height: B - yP(fPorosity[i]), fill: i === 5 ? 'url(#hatch-grey)' : 'url(#hatch-dark)', stroke: '#222', 'stroke-width': 1.6});
    
    
    const solid = make('rect', g, {x: cx, y: yU(fUptake[i]), width: barW, height: B - yU(fUptake[i]), fill: barColors[i], stroke: '#222', 'stroke-width': 1.6});
    
    

    const pTop = yP(fPorosity[i] + fPorosityErr[i]), pBot = yP(fPorosity[i] - fPorosityErr[i]), px = cx - barW / 2;
    const pe = make('path', g, {d: 'M' + (px - 7) + ' ' + pTop + 'H' + (px + 7) + 'M' + px + ' ' + pTop + 'V' + pBot + 'M' + (px - 7) + ' ' + pBot + 'H' + (px + 7), fill: 'none', stroke: '#111', 'stroke-width': 3.5});
    
    
    const uTop = yU(fUptake[i] + fUptakeErr[i]), uBot = yU(fUptake[i] - fUptakeErr[i]), ux = cx + barW / 2;
    const ue = make('path', g, {d: 'M' + (ux - 7) + ' ' + uTop + 'H' + (ux + 7) + 'M' + ux + ' ' + uTop + 'V' + uBot + 'M' + (ux - 7) + ' ' + uBot + 'H' + (ux + 7), fill: 'none', stroke: '#111', 'stroke-width': 3.5});
    
    

    const tick = make('line', g, {x1: cx, x2: cx, y1: B, y2: B + 12, stroke: '#000', 'stroke-width': 3.5});
    
    
    const lx = cx + labelShiftX[i], ly = labelY[i];
    const label = make('text', g, {x: lx, y: ly, 'font-size': 54, 'text-anchor': 'end', transform: 'rotate(-45 ' + lx + ' ' + ly + ')'});
    
    
    label.textContent = cat;
    if (fCategorySubs[i]) {
      const sub = make('tspan', label, {'font-size': 37, dy: 10});
      sub.textContent = fCategorySubs[i];
    }
  });
  for (let i = 0; i <= fCategories.length; i++) {
    const tick = make('line', g, {x1: L + i * step, x2: L + i * step, y1: B, y2: B + 7, stroke: '#000', 'stroke-width': 3});
    
    
  }
  const axes = make('path', g, {d: 'M' + L + ' ' + B + 'V' + T + 'H' + R + 'V' + B + 'H' + L, fill: 'none', stroke: '#000', 'stroke-width': 4});
  
  

  fLeftTicks.forEach(function (v) {
    const tick = make('line', g, {x1: L, x2: L - 12, y1: yP(v), y2: yP(v), stroke: '#000', 'stroke-width': 3.5});
    
    
    const label = make('text', g, {x: 2236, y: yP(v) + 18, 'font-size': 51, 'text-anchor': 'end'});
    
    
    label.textContent = String(v);
  });
  fLeftMinor.forEach(function (v) {
    const tick = make('line', g, {x1: L, x2: L - 7, y1: yP(v), y2: yP(v), stroke: '#000', 'stroke-width': 3});
    
    
  });
  fRightTicks.forEach(function (v) {
    const tick = make('line', g, {x1: R, x2: R + 12, y1: yU(v), y2: yU(v), stroke: '#000', 'stroke-width': 3.5});
    
    
    const label = make('text', g, {x: 3079, y: yU(v) + 18, 'font-size': 52});
    
    
    label.textContent = String(v);
  });
  fRightMinor.forEach(function (v) {
    const tick = make('line', g, {x1: R, x2: R + 7, y1: yU(v), y2: yU(v), stroke: '#000', 'stroke-width': 3});
    
    
  });

  const leftArrow = make('path', g, {d: 'M2299 1010 V973 H2280', fill: 'none', stroke: '#000', 'stroke-width': 3.5});
  
  
  const leftHead = make('polygon', g, {points: '2263,973 2287,965 2287,981', fill: '#000'});
  
  
  const rightArrow = make('path', g, {d: 'M3007 1169 V1134 H3025', fill: 'none', stroke: '#000', 'stroke-width': 3.5});
  
  
  const rightHead = make('polygon', g, {points: '3045,1134 3021,1126 3021,1142', fill: '#000'});
  
  
})();
</script>
</svg>
</body>
</html>
